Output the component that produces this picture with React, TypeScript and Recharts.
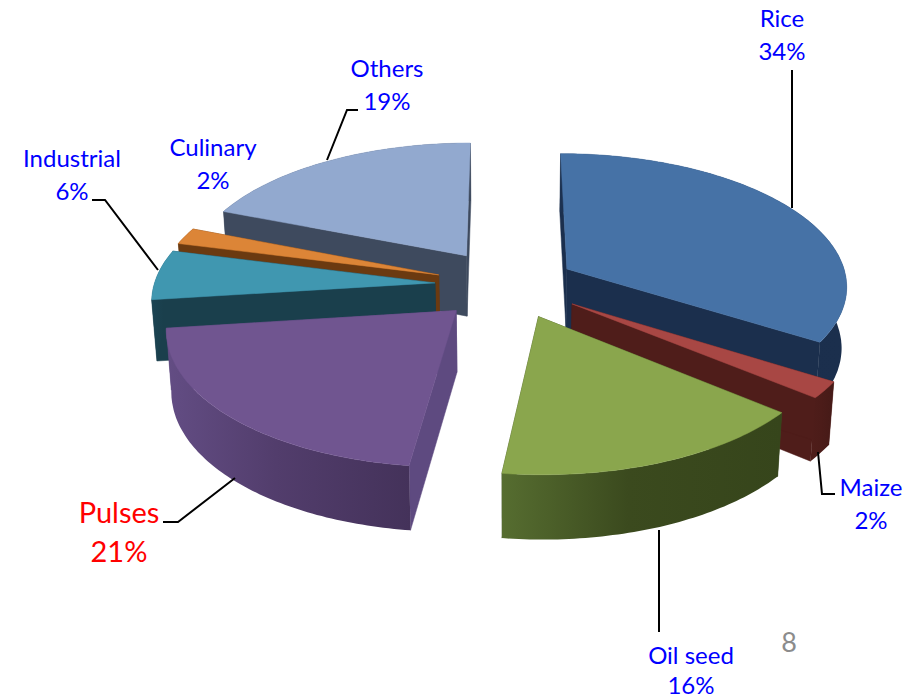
import React from "react";
import { PieChart, Pie } from "recharts";

// Series, in sweep order (counter-clockwise from the far edge of Rice)
const categories = ["Rice", "Others", "Culinary", "Industrial", "Pulses", "Oil seed", "Maize"];
const shares = [34, 19, 2, 6, 21, 16, 2];
const rows = categories.map((name, i) => ({ name, value: shares[i] }));

const SWEEP_START = 90 - (34 / 100) * 360; // Rice's far edge
const PAGE_NUMBER = "8";

const TOPS: Record<string, string> = {
  Rice: "#4672a6", Maize: "#a84744", "Oil seed": "#8aa64d", Pulses: "#705590",
  Industrial: "#4097b0", Culinary: "#dc8537", Others: "#92a9cf",
};
const WALLS: Record<string, [string, string, string]> = {
  Rice: ["#1c3150", "#1a2e4c", "#1b2f4d"],
  Maize: ["#4f1d1a", "#4c1c19", "#451a17"],
  "Oil seed": ["#566d30", "#3b4a1e", "#36451b"],
  Pulses: ["#634d84", "#523d6c", "#44325a"],
  Industrial: ["#1c4453", "#1a3f4c", "#1a3f4c"],
  Culinary: ["#6b3a10", "#6b3a10", "#6b3a10"],
  Others: ["#3e4a5e", "#3e4a5e", "#3e4a5e"],
};
const RADIAL: Record<string, string> = {
  Rice: "#1b2f4d", Maize: "#4f1d1a", "Oil seed": "#3b4a1e", Pulses: "#5e4a80",
  Industrial: "#1a3f4c", Culinary: "#6b3a10", Others: "#3e4a5e",
};
const EXPLODES: Record<string, number> = {
  Rice: 0.255, Maize: 0.29, "Oil seed": 0.315, Pulses: 0.24,
  Industrial: 0.25, Culinary: 0.25, Others: 0.25,
};
// Small extra shift of a slice along the depth of the plane
const NUDGES: Record<string, number> = {
  Rice: 0, Maize: -0.03, "Oil seed": -0.06, Pulses: 0.02,
  Industrial: 0, Culinary: 0, Others: -0.02,
};

type Lbl = { x: number; y1: number; y2: number; size: number; color: string; leader?: number[][] };
const LABELS: Record<string, Lbl> = {
  Rice: { x: 782, y1: 27, y2: 60, size: 24, color: "#0000ff", leader: [[792, 70], [792, 208]] },
  Others: { x: 387, y1: 77, y2: 110, size: 24, color: "#0000ff", leader: [[358, 110], [347, 110], [327, 160]] },
  Culinary: { x: 213, y1: 156, y2: 189, size: 24, color: "#0000ff" },
  Industrial: { x: 72, y1: 167, y2: 200, size: 24, color: "#0000ff", leader: [[92, 200], [105, 200], [158, 270]] },
  Pulses: { x: 119, y1: 523, y2: 562, size: 29, color: "#ff0000", leader: [[163, 522], [178, 522], [235, 478]] },
  Maize: { x: 871, y1: 496, y2: 529, size: 24, color: "#0000ff", leader: [[835, 494], [822, 494], [818, 452]] },
  "Oil seed": { x: 691, y1: 664, y2: 694, size: 24, color: "#0000ff", leader: [[659, 632], [659, 530]] },
};

const FONT = "Lato, 'Open Sans', sans-serif";
const W = 908;
const H = 698;
const CX = 505;
const CY = 285;
const RADIUS = 281;
const TILT = 0.47;
const PERSP = 0.115;
const DEPTH = 61;
const SHRINK = 0.015;

const rad = (a: number) => (a * Math.PI) / 180;

function project(cx: number, cy: number, R: number, X: number, Y: number, z: number) {
  const w = 1 - PERSP * Y;
  return [cx + ((R * X) / w) * (1 - SHRINK * z), cy + (R * TILT * Y) / w + (DEPTH * z) / Math.pow(w, 0.4)];
}
const toPath = (pts: number[][]) =>
  "M" + pts.map((p) => `${p[0].toFixed(1)},${p[1].toFixed(1)}`).join("L") + "Z";

function Slice(props: any, only: (n: string) => boolean) {
  const { cx, cy, outerRadius: R, startAngle, endAngle, payload } = props;
  const name: string = payload?.name ?? props.name;
  if (!only(name)) return <g />;
  const lo = Math.min(startAngle, endAngle);
  const hi = Math.max(startAngle, endAngle);
  const mid = (lo + hi) / 2;
  const ox = Math.cos(rad(mid)) * EXPLODES[name];
  const oy = -Math.sin(rad(mid)) * EXPLODES[name] + NUDGES[name];
  const at = (a: number, z: number) =>
    project(cx, cy, R, ox + Math.cos(rad(a)), oy - Math.sin(rad(a)), z);
  const apex = (z: number) => project(cx, cy, R, ox, oy, z);
  const angles: number[] = [];
  const n = Math.max(4, Math.ceil(hi - lo));
  for (let i = 0; i <= n; i++) angles.push(lo + ((hi - lo) * i) / n);

  const top = [apex(0), ...angles.map((a) => at(a, 0))];
  const wallTop = angles.map((a) => at(a, 0));
  const wallBot = angles.map((a) => at(a, 1)).reverse();
  const faceA = [apex(0), at(lo, 0), at(lo, 1), apex(1)];
  const faceB = [apex(0), at(hi, 0), at(hi, 1), apex(1)];
  const gid = "wall-" + name.replace(/\s/g, "");
  const radial = RADIAL[name];
  const stops = WALLS[name];
  return (
    <g>
      <defs>
        <linearGradient id={gid} x1="0" x2="1" y1="0" y2="0">
          <stop offset="0%" stopColor={stops[0]} />
          <stop offset="45%" stopColor={stops[1]} />
          <stop offset="100%" stopColor={stops[2]} />
        </linearGradient>
      </defs>
      <path d={toPath(faceA)} fill={radial} stroke={radial} strokeWidth={0.5} />
      <path d={toPath(faceB)} fill={radial} stroke={radial} strokeWidth={0.5} />
      <path d={toPath([...wallTop, ...wallBot])} fill={`url(#${gid})`} />
      <path d={toPath(top)} fill={TOPS[name]} stroke={TOPS[name]} strokeWidth={0.5} />
    </g>
  );
}

function SliceLabel(props: any) {
  const name: string = props.payload?.name ?? props.name;
  const l = LABELS[name];
  const pct = `${props.value ?? props.payload?.value}%`;
  return (
    <g>
      {l.leader && (
        <polyline
          points={l.leader.map((p) => p.join(",")).join(" ")}
          fill="none"
          stroke="#000"
          strokeWidth={2}
        />
      )}
      <text x={l.x} y={l.y1} textAnchor="middle" fontFamily={FONT} fontSize={l.size} fill={l.color}>
        {name}
      </text>
      <text x={l.x} y={l.y2} textAnchor="middle" fontFamily={FONT} fontSize={l.size} fill={l.color}>
        {pct}
      </text>
    </g>
  );
}

export default function App() {
  return (
    <div style={{ position: "absolute", left: 0, top: 0, width: W, height: H }}>
      <PieChart width={W} height={H} margin={{ top: 0, right: 0, bottom: 0, left: 0 }}>
        <Pie
          data={rows}
          dataKey="value"
          nameKey="name"
          cx={CX}
          cy={CY}
          outerRadius={RADIUS}
          startAngle={SWEEP_START}
          endAngle={SWEEP_START + 360}
          paddingAngle={0}
          stroke="none"
          isAnimationActive={false}
          labelLine={false}
          label={SliceLabel}
          shape={(p: any) => Slice(p, (n) => n !== "Oil seed")}
        />
        <Pie
          data={rows}
          dataKey="value"
          nameKey="name"
          cx={CX}
          cy={CY}
          outerRadius={RADIUS}
          startAngle={SWEEP_START}
          endAngle={SWEEP_START + 360}
          stroke="none"
          isAnimationActive={false}
          shape={(p: any) => Slice(p, (n) => n === "Oil seed")}
        />
        <text x={789} y={652} textAnchor="middle" fontFamily={FONT} fontSize={27} fill="#8c8c8c">
          {PAGE_NUMBER}
        </text>
      </PieChart>
    </div>
  );
}
